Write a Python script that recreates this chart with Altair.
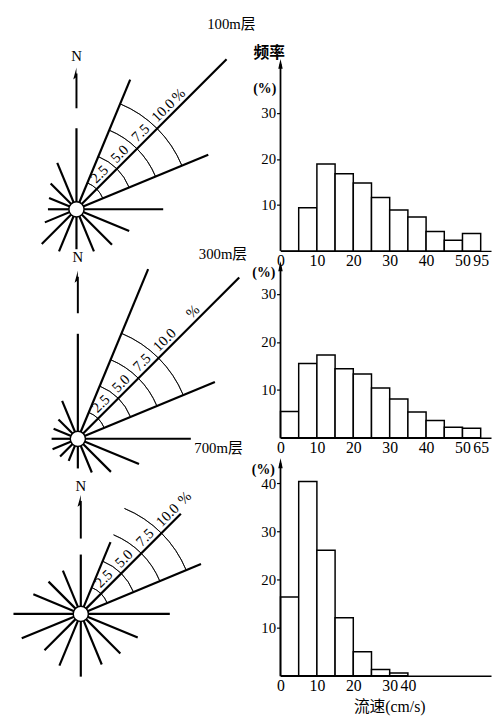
import altair as alt
import pandas as pd

# ---------------- data ----------------
DIRECTIONS = ["N", "NNE", "NE", "ENE", "E", "ESE", "SE", "SSE",
              "S", "SSW", "SW", "WSW", "W", "WNW", "NW", "NNW"]
ROSE_100M = [7.1, 12.3, 18.6, 12.5, 7.6, 5.0, 4.4, 4.0, 3.5, 4.0, 4.3, 3.0, 2.5, 2.6, 3.2, 4.4]
ROSE_300M = [9.2, 16.1, 20.0, 13.0, 9.9, 5.8, 4.1, 3.2, 2.6, 2.1, 2.2, 2.4, 2.3, 2.3, 2.4, 3.6]
ROSE_700M = [5.2, 6.8, 12.4, 11.4, 7.8, 5.4, 4.9, 4.8, 5.5, 4.9, 4.5, 5.6, 5.9, 4.5, 4.0, 4.1]
RING_VALUES = [2.5, 5.0, 7.5, 10.0]
RING_TEXT = ["2.5", "5.0", "7.5", "10.0"]

FREQ_100M = [0.0, 9.4, 18.9, 16.8, 14.8, 11.6, 8.9, 7.4, 4.2, 2.3, 3.8]
FREQ_300M = [5.5, 15.5, 17.3, 14.4, 13.3, 10.4, 8.1, 5.4, 3.6, 2.2, 2.0]
FREQ_700M = [16.4, 40.4, 26.1, 12.1, 5.0, 1.3, 0.6]
SPEED_TEXT_100M = ["0", "10", "20", "30", "40", "50", "95"]
SPEED_TEXT_300M = ["0", "10", "20", "30", "40", "50", "65"]
SPEED_TEXT_700M = ["0", "10", "20", "30", "40"]
SPEED_EDGE_100M = [0, 2, 4, 6, 8, 10, 11]
SPEED_EDGE_300M = [0, 2, 4, 6, 8, 10, 11]
SPEED_EDGE_700M = [0, 2, 4, 6, 7]
FREQ_TICKS_100M = [10, 20, 30]
FREQ_TICKS_300M = [10, 20, 30]
FREQ_TICKS_700M = [10, 20, 30, 40]
LAYER_NAMES = ["100m层", "300m层", "700m层"]
Y_TITLE = "频率"
Y_UNIT = "(%)"
X_TITLE = "流速(cm/s)"

# ---------------- style ----------------
SERIF = "Liberation Serif"
MIXED = "Liberation Serif, Noto Sans CJK SC"
PX_PER_PCT = 11.6
ROSE_W = 276
BIN_PX = 18.5
HIST_W = 214
ROW_H = [240, 190, 242]


def rose(values, height, cx, cy, arrow, north_r, pct_r):
    xs = alt.Scale(domain=[-cx / PX_PER_PCT, (ROSE_W - cx) / PX_PER_PCT], nice=False, zero=False)
    ys = alt.Scale(domain=[-(height - cy) / PX_PER_PCT, cy / PX_PER_PCT], nice=False, zero=False)
    X = lambda f: alt.X(f, scale=xs, axis=None)
    Y = lambda f: alt.Y(f, scale=ys, axis=None)

    df = pd.DataFrame({"dir": DIRECTIONS,
                       "deg": [i * 22.5 for i in range(len(DIRECTIONS))],
                       "pct": values})
    spokes = alt.Chart(df).transform_calculate(
        x0="0", y0="0",
        x1="datum.pct * sin(datum.deg * PI / 180)",
        y1="datum.pct * cos(datum.deg * PI / 180)",
    ).mark_rule(color="black", strokeWidth=2.2).encode(
        x=X("x0:Q"), y=Y("y0:Q"), x2="x1:Q", y2="y1:Q")

    rings = alt.Chart(pd.DataFrame({"r": RING_VALUES})).transform_calculate(
        x0="0", y0="0", a0="22.5", a1="67.5"
    ).mark_arc(fillOpacity=0, stroke="black", strokeWidth=0.8).encode(
        x=X("x0:Q"), y=Y("y0:Q"),
        theta=alt.Theta("a0:Q", scale=alt.Scale(domain=[0, 360])), theta2="a1:Q",
        radius=alt.Radius("r:Q", scale=alt.Scale(type="linear", domain=[0, 10],
                                                 range=[0, 10 * PX_PER_PCT], zero=True)),
        radius2="r:Q")

    lab = pd.DataFrame({"t": RING_TEXT + ["%"], "r": [3.6, 6.1, 8.7, 11.5, pct_r]})
    labels = alt.Chart(lab).transform_calculate(
        x="datum.r * SQRT1_2", y="datum.r * SQRT1_2"
    ).mark_text(angle=315, baseline="bottom", dy=-1, font=SERIF, fontSize=15, color="black").encode(
        x=X("x:Q"), y=Y("y:Q"), text="t:N")

    hub = alt.Chart(pd.DataFrame({"x0": [0.0], "y0": [0.0]})).mark_point(
        shape="circle", size=240, filled=True, fill="white", stroke="black",
        strokeWidth=1.5, opacity=1).encode(x=X("x0:Q"), y=Y("y0:Q"))

    nd = pd.DataFrame({"x0": [0.0], "a0": [arrow[0]], "a1": [arrow[1]], "n": [north_r], "t": ["N"]})
    nline = alt.Chart(nd).mark_rule(color="black", strokeWidth=2).encode(
        x=X("x0:Q"), y=Y("a0:Q"), y2="a1:Q")
    nhead = alt.Chart(nd).mark_point(shape="M0,-1 L-0.55,1 L0,0.6 Z", size=144, filled=True,
                                     color="black", opacity=1).encode(x=X("x0:Q"), y=Y("a1:Q"))
    nlab = alt.Chart(nd).mark_text(font=SERIF, fontSize=15, color="black").encode(
        x=X("x0:Q"), y=Y("n:Q"), text="t:N")

    return alt.layer(rings, spokes, labels, hub, nline, nhead, nlab).properties(
        width=ROSE_W, height=height)


def label_expr(edges, texts):
    expr = "''"
    for e, t in reversed(list(zip(edges, texts))):
        expr = f"datum.value == {e} ? '{t}' : ({expr})"
    return expr


def hist(freqs, edges, texts, yticks, height, px_per_pct, arrow_top, notes):
    n = len(freqs)
    df = pd.DataFrame({"b0": list(range(n)), "b1": list(range(1, n + 1)), "f": freqs,
                       "base": [0.0] * n})
    xs = alt.Scale(domain=[0, HIST_W / BIN_PX], nice=False, zero=False)
    ys = alt.Scale(domain=[0, height / px_per_pct], nice=False, zero=True)
    x_axis = alt.Axis(
        values=edges, labelExpr=label_expr(edges, texts), title=None, grid=False,
        ticks=False, domainColor="black", domainWidth=1.5, labelFont=SERIF,
        labelFontSize=16, labelColor="black", labelPadding=2, labelOverlap=False,
        labelFlush=False, labelBound=False)
    y_axis = alt.Axis(
        values=yticks, title=None, grid=False, domain=False, tickColor="black",
        tickSize=4, tickWidth=1.2, labelFont=SERIF, labelFontSize=15,
        labelColor="black", labelPadding=1, labelOverlap=False)
    bars = alt.Chart(df).mark_bar(fill="white", stroke="black", strokeWidth=1.5).encode(
        x=alt.X("b0:Q", scale=xs, axis=x_axis),
        x2="b1:Q",
        y=alt.Y("f:Q", scale=ys, axis=y_axis),
        y2="base:Q")
    ad = pd.DataFrame({"x0": [0.0], "y0": [0.0], "y1": [arrow_top]})
    yline = alt.Chart(ad).mark_rule(color="black", strokeWidth=1.8).encode(
        x=alt.X("x0:Q", scale=xs, axis=x_axis), y=alt.Y("y0:Q", scale=ys, axis=y_axis),
        y2="y1:Q")
    yhead = alt.Chart(ad).mark_point(shape="M0,-1 L0.45,1 L-0.45,1 Z", size=100, filled=True,
                                     color="black", opacity=1).encode(
        x=alt.X("x0:Q", scale=xs, axis=x_axis), y=alt.Y("y1:Q", scale=ys, axis=y_axis))
    layers = [bars, yline, yhead]
    for text, px, py, size, weight in notes:
        layers.append(alt.Chart(pd.DataFrame({"t": [text]})).mark_text(
            font=MIXED, fontSize=size, fontWeight=weight, color="black").encode(
            x=alt.value(px), y=alt.value(py), text="t:N"))
    return alt.layer(*layers).properties(width=HIST_W, height=height)


r1 = rose(ROSE_100M, ROW_H[0], 68.6, 197.7, (8.85, 11.9), 13.4, 13.4)
r2 = rose(ROSE_300M, ROW_H[1], 70.0, 191.0, (11.0, 14.2), 15.9, 15.0)
r3 = rose(ROSE_700M, ROW_H[2], 73.0, 179.0, (6.6, 9.9), 11.2, 13.6)

h1 = hist(FREQ_100M, SPEED_EDGE_100M, SPEED_TEXT_100M, FREQ_TICKS_100M, ROW_H[0], 4.67, 40.7,
          [(LAYER_NAMES[0], -50, 9.5, 15, "normal"), (Y_TITLE, -11.5, 38.5, 16, "bold"),
           (Y_UNIT, -16, 75.5, 14, "bold")])
h2 = hist(FREQ_300M, SPEED_EDGE_300M, SPEED_TEXT_300M, FREQ_TICKS_300M, ROW_H[1], 4.87, 35.8,
          [(LAYER_NAMES[1], -58.5, 3.5, 15, "normal"), (Y_UNIT, -17, 23, 14, "bold")])
h3 = hist(FREQ_700M, SPEED_EDGE_700M, SPEED_TEXT_700M, FREQ_TICKS_700M, ROW_H[2], 4.89, 44.2,
          [(LAYER_NAMES[2], -63, 10.5, 15, "normal"), (Y_UNIT, -17.5, 32.5, 14, "bold"),
           (X_TITLE, 111, 274, 16, "normal")])

chart = alt.concat(r1, h1, r2, h2, r3, h3, columns=2, spacing=0, bounds="flush",
                   align="each").configure_view(stroke="transparent").configure_axis(
    labelOverlap=False, labelFlush=False).properties(padding=0)

chart.save("out.html", embed_options={"renderer": "svg", "actions": False})
